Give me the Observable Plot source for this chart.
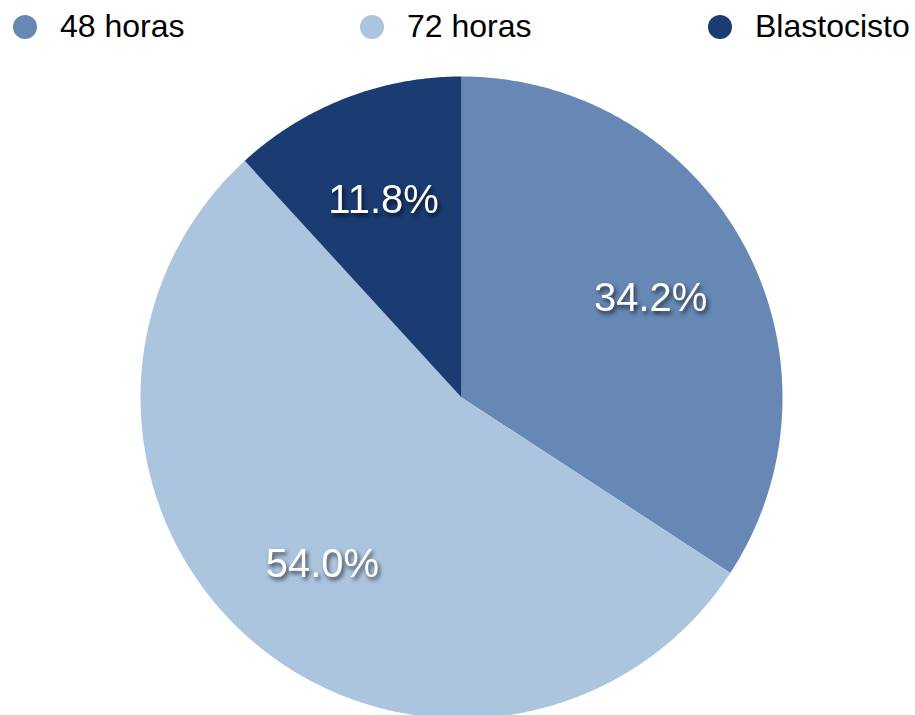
<!DOCTYPE html>
<html><head><meta charset="utf-8">
<script src="https://cdn.jsdelivr.net/npm/d3@7"></script>
<script src="https://cdn.jsdelivr.net/npm/@observablehq/plot@0.6"></script>
<style>
body{margin:0;background:#fff;font-family:"Liberation Sans",Arial,Helvetica,sans-serif;}
#legend{position:relative;height:60px;width:915px;}
.item{position:absolute;top:8px;display:flex;align-items:center;font-size:32px;line-height:37px;color:#000;white-space:nowrap;}
.sw{width:24px;height:24px;border-radius:50%;margin-right:23px;}
.lbl text{filter:drop-shadow(2px 3px 2px rgba(0,0,0,0.65));}
</style></head><body>
<div id="legend"></div><div id="chart"></div>
<script>
const categories = ["48 horas", "72 horas", "Blastocisto"];
const values = [34.2, 54.0, 11.8];
const colors = ["#6788b5", "#acc5df", "#1b3c73"];
const labels = ["34.2%", "54.0%", "11.8%"];

// legend
const legendLeft = [13, 360, 708];
const legend = document.getElementById("legend");
categories.forEach((c, i) => {
  const it = document.createElement("div");
  it.className = "item";
  it.style.left = legendLeft[i] + "px";
  it.innerHTML = `<span class="sw" style="background:${colors[i]}"></span><span>${c}</span>`;
  legend.appendChild(it);
});

// build slice polygons from values (angle clockwise from 12 o'clock)
const total = d3.sum(values);
const slices = [];
const labelPts = [];
let acc = 0;
values.forEach((v, i) => {
  const a0 = acc / total * 2 * Math.PI;
  acc += v;
  const a1 = acc / total * 2 * Math.PI;
  const cat = categories[i];
  slices.push({cat, x: 0, y: 0});
  const n = Math.max(2, Math.ceil((a1 - a0) / (Math.PI / 360)));
  for (let k = 0; k <= n; k++) {
    const a = a0 + (a1 - a0) * k / n;
    slices.push({cat, x: Math.sin(a), y: Math.cos(a)});
  }
  slices.push({cat, x: 0, y: 0});
  const am = (a0 + a1) / 2;
  labelPts.push({cat, text: labels[i], x: 0.67 * Math.sin(am), y: 0.67 * Math.cos(am)});
});

const W = 915, H = 655, R = 321, cx = 461, cy = 337;
const chart = Plot.plot({
  width: W, height: H,
  margin: 0,
  style: {fontFamily: '"Liberation Sans", Arial, Helvetica, sans-serif', background: "#fff", overflow: "visible"},
  x: {domain: [-cx / R, (W - cx) / R], axis: null},
  y: {domain: [-(H - cy) / R, cy / R], axis: null},
  color: {domain: categories, range: colors},
  marks: [
    Plot.line(slices, {x: "x", y: "y", z: "cat", fill: "cat", stroke: null, curve: "linear"}),
    Plot.text(labelPts, {x: "x", y: "y", text: "text", fill: "white", fontSize: 40, dy: 3, className: "lbl"})
  ]
});
document.getElementById("chart").appendChild(chart);
</script>
</body></html>
